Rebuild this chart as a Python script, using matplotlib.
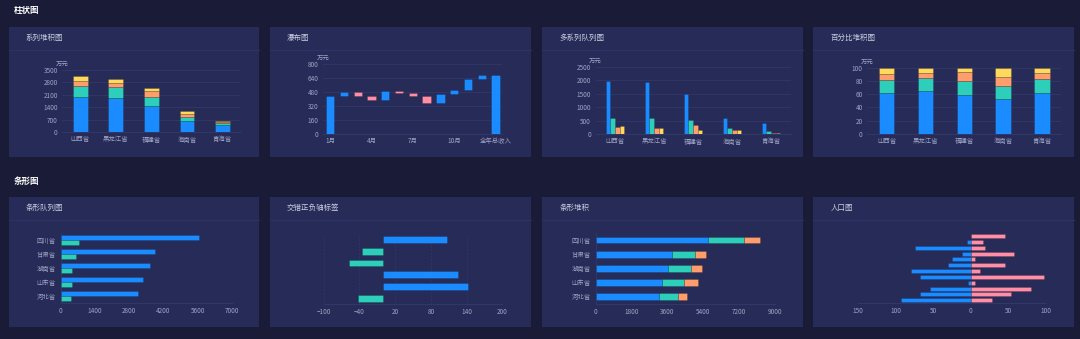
import numpy as np
import matplotlib
matplotlib.use("Agg")
import matplotlib.pyplot as plt
from matplotlib.patches import Rectangle
from matplotlib.lines import Line2D
from matplotlib.ticker import FuncFormatter

plt.rcParams['font.family'] = ['Noto Sans CJK SC', 'DejaVu Sans']

# ---------------- data ----------------
provinces = ['山西省', '黑龙江省', '福建省', '海南省', '青海省']
s_blue = [1960, 1920, 1475, 620, 405]
s_teal = [620, 590, 510, 230, 130]
s_orange = [275, 230, 330, 155, 60]
s_yellow = [290, 250, 170, 170, 55]

months = ['1月', '2月', '3月', '4月', '5月', '6月', '7月', '8月', '9月', '10月', '11月', '12月', '全年总收入']
month_change = [430, 45, -38, -55, 105, -15, -40, -75, 98, 47, 125, 45]

bar_provinces = ['河北省', '山东省', '湖南省', '甘肃省', '四川省']
bar_blue = [3170, 3360, 3630, 3860, 5650]
bar_teal = [440, 470, 460, 625, 750]

cross_values = [107, -36, -57, 125, 143, -43]  # top to bottom

stk_blue = [3160, 3330, 3630, 3830, 5660]
stk_teal = [970, 1100, 1140, 1170, 1790]
stk_orange = [435, 700, 550, 550, 800]

pop_left = [0, 5, 74, 11, 25, 30, 79, 67, 3, 54, 67, 92]     # top to bottom
pop_right = [45, 16, 19, 57, 6, 46, 12, 97, 6, 80, 54, 28]

# ---------------- style ----------------
W, H = 1080, 339
BG = '#1a1c37'
PANEL = '#272b57'
HEAD_LINE = '#2e3465'
GRID = '#323868'
TICK = '#9ea3c6'
TITLE = '#cdd0e4'
BLUE = '#1a8cff'
TEAL = '#2ecfba'
ORANGE = '#ff9d6c'
YELLOW = '#ffd95c'
PINK = '#ff8ea6'
EDGE = (0, 0, 0, 0.22)
TS = 4.6

fig = plt.figure(figsize=(W / 100, H / 100), dpi=100, facecolor=BG)


def frac(x0, y0, x1, y1):
    return [x0 / W, 1 - y1 / H, (x1 - x0) / W, (y1 - y0) / H]


def panel(x0, y0, x1, y1, title, head_y):
    fig.add_artist(Rectangle((x0 / W, 1 - y1 / H), (x1 - x0) / W, (y1 - y0) / H,
                             transform=fig.transFigure, facecolor=PANEL,
                             edgecolor='none', zorder=-10))
    fig.add_artist(Line2D([x0 / W, x1 / W], [1 - head_y / H] * 2,
                          transform=fig.transFigure, color=HEAD_LINE, lw=0.7, zorder=-9))
    fig.text((x0 + 17) / W, 1 - (y0 + 11.5) / H, title, color=TITLE, fontsize=5.4,
             va='center', ha='left')


def base_ax(rect, xpad=2.3, ypad=3.4):
    ax = fig.add_axes(frac(*rect))
    ax.patch.set_alpha(0)
    for s in ax.spines.values():
        s.set_visible(False)
    ax.spines['bottom'].set_visible(True)
    ax.spines['bottom'].set_color(GRID)
    ax.spines['bottom'].set_linewidth(0.7)
    ax.tick_params(length=0, labelsize=TS, colors=TICK)
    ax.tick_params(axis='x', pad=xpad)
    ax.tick_params(axis='y', pad=ypad)
    return ax


def unit_label(ax):
    ax.annotate('万元', xy=(0, 1), xycoords='axes fraction', xytext=(0, 4.4),
                textcoords='offset points', ha='center', va='center',
                fontsize=TS, color=TICK)


# section titles
fig.text(13.3 / W, 1 - 11 / H, '柱状图', color='white', fontsize=6.1, fontweight='bold', va='center')
fig.text(13.3 / W, 1 - 181 / H, '条形图', color='white', fontsize=6.1, fontweight='bold', va='center')

# panels
top_y0, top_y1 = 26.7, 157.3
bot_y0, bot_y1 = 196.7, 327.3
panel(9, top_y0, 259.3, top_y1, '系列堆积图', 50)
panel(269.7, top_y0, 530.7, top_y1, '瀑布图', 50)
panel(542.3, top_y0, 802.7, top_y1, '多系列队列图', 50)
panel(813.3, top_y0, 1074, top_y1, '百分比堆积图', 50)
panel(9, bot_y0, 259.3, bot_y1, '条形队列图', 220)
panel(269.7, bot_y0, 530.7, bot_y1, '交错正负轴标签', 220)
panel(542.3, bot_y0, 802.7, bot_y1, '条形堆积', 220)
panel(813.3, bot_y0, 1074, bot_y1, '人口图', 220)

stack_colors = [BLUE, TEAL, ORANGE, YELLOW]
stack_series = [s_blue, s_teal, s_orange, s_yellow]

# ---- 1: stacked bar ----
ax = base_ax((62.4, 69.7, 240.4, 132.3))
x = np.arange(len(provinces))
bottom = np.zeros(len(provinces))
for vals, c in zip(stack_series, stack_colors):
    ax.bar(x, vals, 0.42, bottom=bottom, color=c, edgecolor=EDGE, lw=0.5, zorder=3)
    bottom += np.array(vals)
ax.set_xlim(-0.5, len(provinces) - 0.5)
ax.set_ylim(0, 3500)
ax.set_yticks(np.arange(0, 3501, 700))
ax.set_xticks(x)
ax.set_xticklabels(provinces)
ax.grid(axis='y', color=GRID, lw=0.6)
unit_label(ax)

# ---- 2: waterfall ----
ax = base_ax((323.3, 64.0, 502.4, 133.7))
chg = np.array(month_change, dtype=float)
cum = np.cumsum(chg)
n = len(months)
xm = np.arange(n)
starts = np.concatenate([[0], cum[:-1]])
for i in range(len(chg)):
    lo = min(starts[i], cum[i])
    h = abs(chg[i])
    c = BLUE if chg[i] >= 0 else PINK
    ax.bar(xm[i], h, 0.6, bottom=lo, color=c, edgecolor=EDGE, lw=0.5, zorder=3)
ax.bar(xm[-1], cum[-1], 0.6, bottom=0, color=BLUE, edgecolor=EDGE, lw=0.5, zorder=3)
ax.set_xlim(-0.5, n - 0.5)
ax.set_ylim(0, 800)
ax.set_yticks(np.arange(0, 801, 160))
ax.set_xticks(xm[::3])
ax.set_xticklabels(months[::3])
ax.grid(axis='y', color=GRID, lw=0.6)
unit_label(ax)

# ---- 3: grouped bar ----
ax = base_ax((595.5, 66.6, 790.5, 134.3))
step, bw = 0.128, 0.103
for k, (vals, c) in enumerate(zip(stack_series, stack_colors)):
    ax.bar(x + (k - 1.5) * step, vals, bw, color=c, edgecolor=EDGE, lw=0.4, zorder=3)
ax.set_xlim(-0.5, len(provinces) - 0.5)
ax.set_ylim(0, 2500)
ax.set_yticks(np.arange(0, 2501, 500))
ax.set_xticks(x)
ax.set_xticklabels(provinces)
ax.grid(axis='y', color=GRID, lw=0.6)
unit_label(ax)

# ---- 4: percent stacked ----
ax = base_ax((867.3, 67.7, 1061.3, 133.7))
tot = np.sum(np.array(stack_series, dtype=float), axis=0)
bottom = np.zeros(len(provinces))
for vals, c in zip(stack_series, stack_colors):
    pct = np.array(vals) / tot * 100
    ax.bar(x, pct, 0.4, bottom=bottom, color=c, edgecolor=EDGE, lw=0.5, zorder=3)
    bottom += pct
ax.set_xlim(-0.5, len(provinces) - 0.5)
ax.set_ylim(0, 100)
ax.set_yticks(np.arange(0, 101, 20))
ax.set_xticks(x)
ax.set_xticklabels(provinces)
ax.grid(axis='y', color=GRID, lw=0.6)
unit_label(ax)

# ---- 5: grouped horizontal bar ----
ax = base_ax((60.7, 233.0, 232.0, 303.0), xpad=3.0)
y = np.arange(len(bar_provinces))
ax.barh(y + 0.17, bar_blue, 0.33, color=BLUE, edgecolor=EDGE, lw=0.4, zorder=3)
ax.barh(y - 0.17, bar_teal, 0.33, color=TEAL, edgecolor=EDGE, lw=0.4, zorder=3)
ax.set_ylim(-0.5, len(bar_provinces) - 0.5)
ax.set_xlim(0, 7000)
ax.set_xticks(np.arange(0, 7001, 1400))
ax.set_yticks(y)
ax.set_yticklabels(bar_provinces)
ax.spines['left'].set_visible(True)
ax.spines['left'].set_color(GRID)
ax.spines['left'].set_linewidth(0.6)

# ---- 6: positive / negative ----
ax = base_ax((323.7, 233.5, 502.3, 304.3), xpad=3.0)
nv = len(cross_values)
yc = np.arange(nv)[::-1]
cols = [BLUE if v >= 0 else TEAL for v in cross_values]
ax.barh(yc, cross_values, 0.57, color=cols, edgecolor=EDGE, lw=0.5, zorder=3)
ax.set_ylim(-0.5, nv - 0.5)
ax.set_xlim(-100, 200)
ax.set_xticks(np.arange(-100, 201, 60))
ax.set_yticks([])
ax.grid(axis='x', color=GRID, lw=0.6, ls=(0, (2, 2)))

# ---- 7: stacked horizontal bar ----
ax = base_ax((595.7, 233.0, 775.0, 303.5), xpad=3.0)
left = np.zeros(len(bar_provinces))
for vals, c in zip([stk_blue, stk_teal, stk_orange], [BLUE, TEAL, ORANGE]):
    ax.barh(y, vals, 0.48, left=left, color=c, edgecolor=EDGE, lw=0.5, zorder=3)
    left += np.array(vals)
ax.set_ylim(-0.5, len(bar_provinces) - 0.5)
ax.set_xlim(0, 9000)
ax.set_xticks(np.arange(0, 9001, 1800))
ax.set_yticks(y)
ax.set_yticklabels(bar_provinces)
ax.spines['left'].set_visible(True)
ax.spines['left'].set_color(GRID)
ax.spines['left'].set_linewidth(0.6)

# ---- 8: population pyramid ----
ax = base_ax((857.7, 233.1, 1046.0, 303.2), xpad=3.0)
npop = len(pop_left)
yp = np.arange(npop)[::-1]
ax.barh(yp, -np.array(pop_left), 0.68, color=BLUE, edgecolor=EDGE, lw=0.4, zorder=3)
ax.barh(yp, pop_right, 0.68, color=PINK, edgecolor=EDGE, lw=0.4, zorder=3)
ax.set_ylim(-0.5, npop - 0.5)
ax.set_xlim(-150, 100)
ax.set_xticks(np.arange(-150, 101, 50))
ax.xaxis.set_major_formatter(FuncFormatter(lambda v, p: f'{abs(int(round(v)))}'))
ax.set_yticks([])

fig.savefig('out.png', dpi=100, facecolor=BG)
